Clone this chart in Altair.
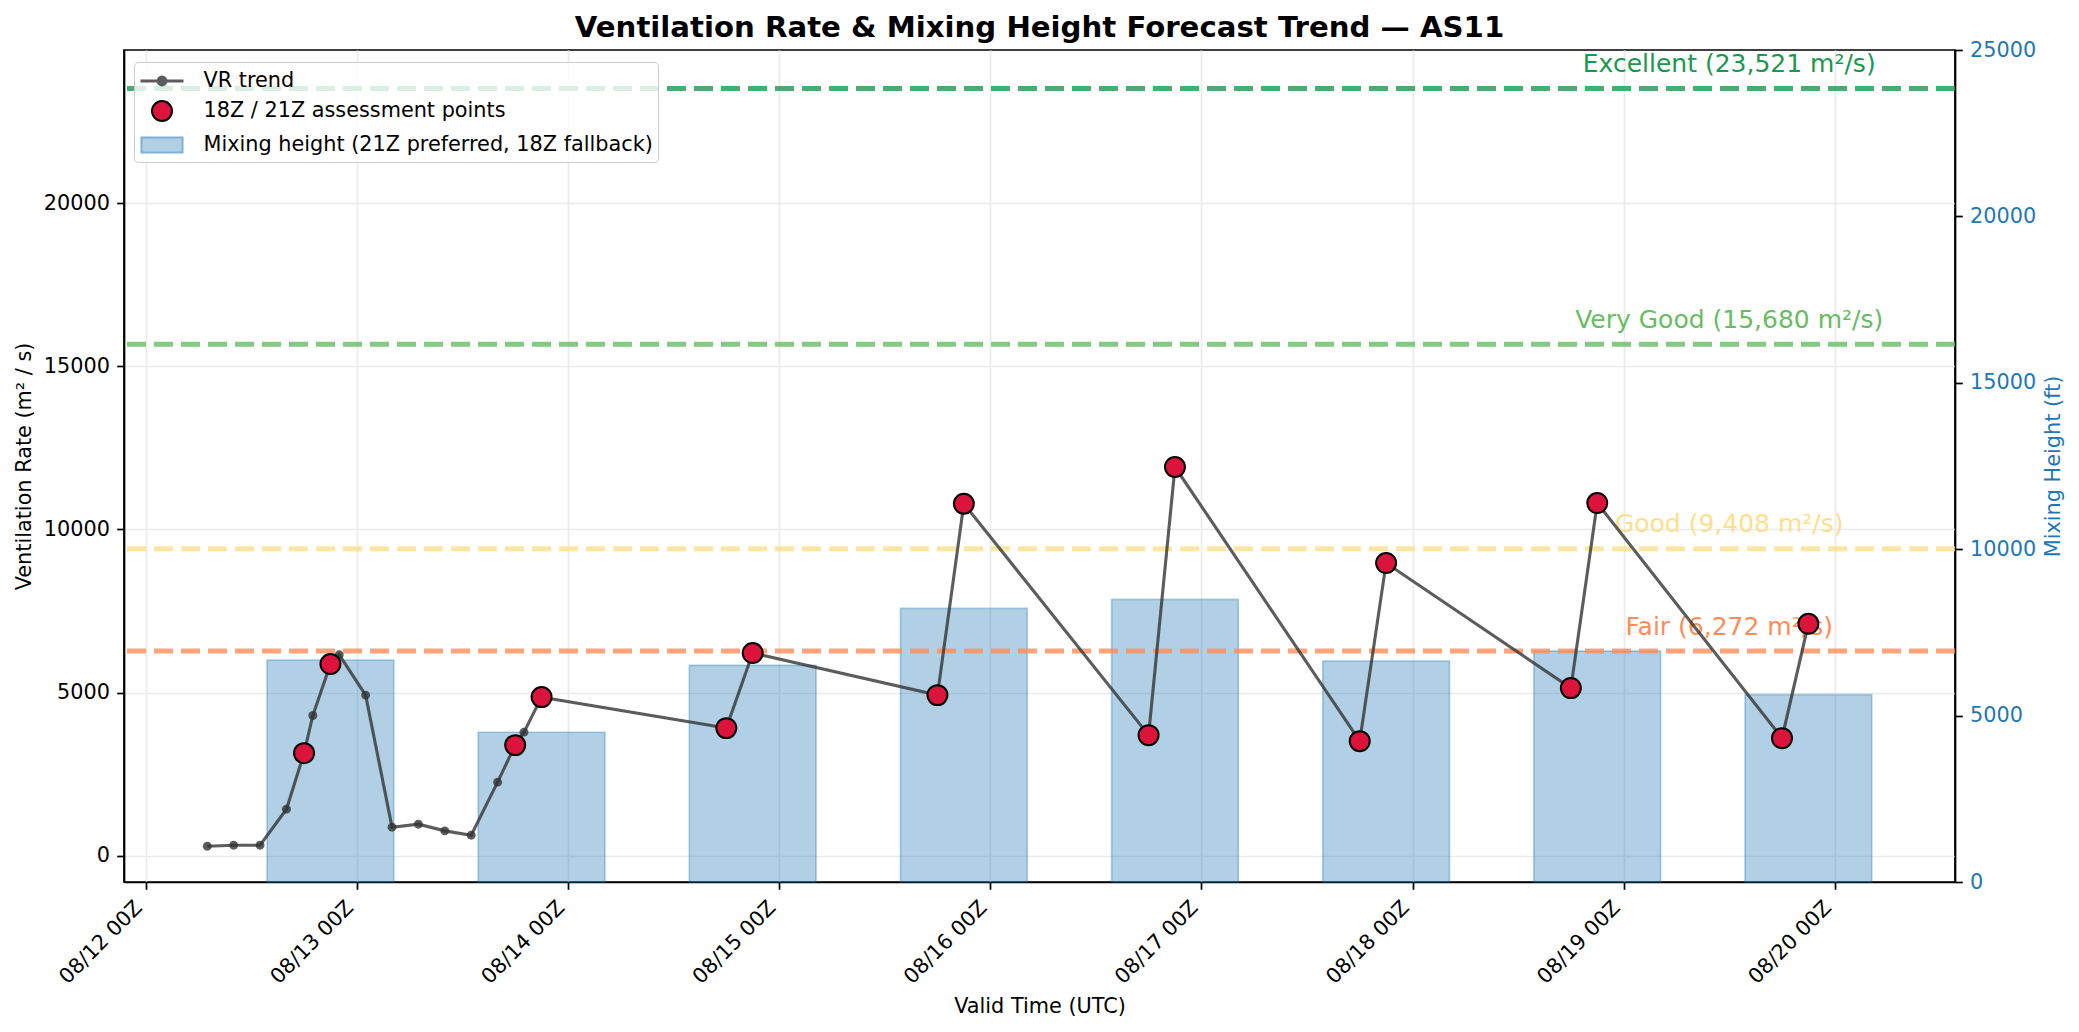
"""Ventilation rate and mixing height forecast trend for AS11."""

import altair as alt
import pandas as pd

# VR trend: 3-hourly guidance for the first two days plus the 18Z / 21Z checks
TREND_TIMES = [
    '2025-08-12T07:00:00Z', '2025-08-12T10:00:00Z', '2025-08-12T13:00:00Z', '2025-08-12T16:00:00Z',
    '2025-08-12T18:00:00Z', '2025-08-12T19:00:00Z', '2025-08-12T21:00:00Z', '2025-08-12T22:00:00Z',
    '2025-08-13T01:00:00Z', '2025-08-13T04:00:00Z', '2025-08-13T07:00:00Z', '2025-08-13T10:00:00Z',
    '2025-08-13T13:00:00Z', '2025-08-13T16:00:00Z', '2025-08-13T18:00:00Z', '2025-08-13T19:00:00Z',
    '2025-08-13T21:00:00Z', '2025-08-14T18:00:00Z', '2025-08-14T21:00:00Z', '2025-08-15T18:00:00Z',
    '2025-08-15T21:00:00Z', '2025-08-16T18:00:00Z', '2025-08-16T21:00:00Z', '2025-08-17T18:00:00Z',
    '2025-08-17T21:00:00Z', '2025-08-18T18:00:00Z', '2025-08-18T21:00:00Z', '2025-08-19T18:00:00Z',
    '2025-08-19T21:00:00Z',
]
TREND_VR = [
    288, 319, 319, 1423, 3141, 4295, 5871, 6156,
    4920, 871, 963, 758, 626, 2252, 3387, 3785,
    4859, 3908, 6209, 4920, 10788, 3693, 11914, 3509,
    8969, 5135, 10808, 3601, 7107,
]

ASSESS_TIMES = [
    '2025-08-12T18:00:00Z', '2025-08-12T21:00:00Z', '2025-08-13T18:00:00Z', '2025-08-13T21:00:00Z',
    '2025-08-14T18:00:00Z', '2025-08-14T21:00:00Z', '2025-08-15T18:00:00Z', '2025-08-15T21:00:00Z',
    '2025-08-16T18:00:00Z', '2025-08-16T21:00:00Z', '2025-08-17T18:00:00Z', '2025-08-17T21:00:00Z',
    '2025-08-18T18:00:00Z', '2025-08-18T21:00:00Z', '2025-08-19T18:00:00Z', '2025-08-19T21:00:00Z',
]
ASSESS_VR = [3141, 5871, 3387, 4859, 3908, 6209, 4920, 10788,
             3693, 11914, 3509, 8969, 5135, 10808, 3601, 7107]

MIX_TIMES = [
    '2025-08-12T21:00:00Z', '2025-08-13T21:00:00Z', '2025-08-14T21:00:00Z', '2025-08-15T21:00:00Z',
    '2025-08-16T21:00:00Z', '2025-08-17T21:00:00Z', '2025-08-18T21:00:00Z', '2025-08-19T21:00:00Z',
]
MIX_HEIGHT_FT = [6670, 4500, 6510, 8220, 8490, 6640, 6940, 5630]

THRESHOLD_NAMES = ['Fair', 'Good', 'Very Good', 'Excellent']
THRESHOLD_VALUES = [6272, 9408, 15680, 23521]
THRESHOLD_COLOURS = ['#fc8d59', '#fee08b', '#66bd63', '#1a9850']
LABEL_TIME = '2025-08-19T12:00:00Z'

DAY_TICKS = ['2025-08-%02dT00:00:00Z' % day for day in range(12, 21)]
X_DOMAIN = ['2025-08-11T21:32:00Z', '2025-08-20T13:40:00Z']
VR_DOMAIN = [-810, 24700]
VR_TICKS = [0, 5000, 10000, 15000, 20000]
MIX_TICKS = [0, 5000, 10000, 15000, 20000, 25000]

SERIES = ['VR trend', '18Z / 21Z assessment points', 'Mixing height (21Z preferred, 18Z fallback)']
SERIES_FILL = ['#5c5c5c', '#DC143C', '#b1cfe5']
SERIES_STROKE = ['#5c5c5c', '#000000', '#7fb0d6']

# symbol paths, unit = 13.5px at size 729
TREND_SYMBOL = ('M-1.52,-0.04H1.52V0.04H-1.52Z '
                'M-0.33,0A0.33,0.33 0 1,0 0.33,0A0.33,0.33 0 1,0 -0.33,0Z')
DOT_SYMBOL = 'M-0.74,0A0.74,0.74 0 1,0 0.74,0A0.74,0.74 0 1,0 -0.74,0Z'
BAR_SYMBOL = 'M-1.52,-0.556H1.52V0.556H-1.52Z'

FONT = 'DejaVu Sans'


def to_ms(stamps):
    return [int(pd.Timestamp(s).timestamp() * 1000) for s in stamps]


def iso(ts):
    return ts.strftime('%Y-%m-%dT%H:%M:%SZ')


x_scale = alt.Scale(type='utc', domain=to_ms(X_DOMAIN), nice=False)
vr_scale = alt.Scale(domain=VR_DOMAIN, nice=False, zero=False)

trend = pd.DataFrame({'at': TREND_TIMES, 'vr': TREND_VR})
assess = pd.DataFrame({'at': ASSESS_TIMES, 'vr': ASSESS_VR, 'series': SERIES[1]})

mix_at = pd.to_datetime(MIX_TIMES)
mix = pd.DataFrame({
    'start': [iso(t - pd.Timedelta(hours=7.2)) for t in mix_at],
    'end': [iso(t + pd.Timedelta(hours=7.2)) for t in mix_at],
    'height': MIX_HEIGHT_FT,
})

thresholds = pd.DataFrame({
    'name': THRESHOLD_NAMES,
    'value': THRESHOLD_VALUES,
    'label': [f'{n} ({v:,} m²/s)' for n, v in zip(THRESHOLD_NAMES, THRESHOLD_VALUES)],
    'at': LABEL_TIME,
})
threshold_colour = alt.Color('name:N', legend=None,
                             scale=alt.Scale(domain=THRESHOLD_NAMES, range=THRESHOLD_COLOURS))

x_axis = alt.Axis(values=to_ms(DAY_TICKS), format='%m/%d %HZ', labelAngle=315, labelAlign='right',
                  labelBaseline='middle', labelPadding=15, labelOffset=-7, labelFlush=False,
                  labelOverlap=False, title='Valid Time (UTC)', titlePadding=9, grid=True)

bars = alt.Chart(mix).mark_rect(
    fill='#1f77b4', fillOpacity=0.35, stroke='#1f77b4', strokeOpacity=0.35, strokeWidth=1.7
).encode(
    x=alt.X('start:T', scale=x_scale, axis=x_axis),
    x2='end:T',
    y=alt.Y('height:Q', scale=alt.Scale(domain=[0, 25000], nice=False),
            axis=alt.Axis(orient='right', values=MIX_TICKS, format='d', grid=False,
                          title='Mixing Height (ft)', titleAngle=270, titlePadding=28,
                          labelColor='#1f77b4', titleColor='#1f77b4')),
    y2=alt.datum(0),
)

rules = alt.Chart(thresholds).mark_rule(strokeDash=[19, 8], strokeWidth=5, opacity=0.8).encode(
    y=alt.Y('value:Q', scale=vr_scale,
            axis=alt.Axis(orient='left', values=VR_TICKS, format='d', grid=True,
                          title='Ventilation Rate (m² / s)', titlePadding=9)),
    color=threshold_colour,
)

labels = alt.Chart(thresholds).mark_text(fontSize=25, align='center', baseline='alphabetic', dy=-16.5).encode(
    x=alt.X('at:T', scale=x_scale),
    y=alt.Y('value:Q', scale=vr_scale),
    text='label:N',
    color=threshold_colour,
)

line = alt.Chart(trend).mark_line(
    color='#333333', opacity=0.8, strokeWidth=3.1,
    point=alt.OverlayMarkDef(filled=True, color='#333333', opacity=0.8, size=80),
).encode(
    x=alt.X('at:T', scale=x_scale),
    y=alt.Y('vr:Q', scale=vr_scale),
)

points = alt.Chart(assess).mark_point(filled=True, size=729, strokeWidth=2, opacity=1).encode(
    x=alt.X('at:T', scale=x_scale),
    y=alt.Y('vr:Q', scale=vr_scale),
    fill=alt.Fill('series:N', scale=alt.Scale(domain=SERIES, range=SERIES_FILL),
                  legend=alt.Legend(title=None, orient='none', legendX=10, legendY=12, padding=4.5,
                                    symbolSize=729, symbolStrokeWidth=2, symbolOffset=9, symbolOpacity=1,
                                    labelOffset=27, labelFontSize=20.8, labelLimit=700, rowPadding=5,
                                    fillColor='rgba(255,255,255,0.8)', strokeColor='#cccccc',
                                    cornerRadius=4)),
    stroke=alt.Stroke('series:N', scale=alt.Scale(domain=SERIES, range=SERIES_STROKE)),
    shape=alt.Shape('series:N', scale=alt.Scale(domain=SERIES,
                                                range=[TREND_SYMBOL, DOT_SYMBOL, BAR_SYMBOL])),
)

vr_layers = alt.layer(rules, labels, line, points)

chart = alt.layer(bars, vr_layers).resolve_scale(y='independent').properties(
    width=1831,
    height=832,
    autosize=alt.AutoSizeParams(type='none'),
    padding={'left': 116, 'top': 42, 'right': 116, 'bottom': 142},
    title=alt.TitleParams('Ventilation Rate & Mixing Height Forecast Trend — AS11', fontSize=29.2,
                          fontWeight='bold', anchor='middle', frame='group', baseline='alphabetic',
                          offset=-27, color='black'),
).configure_view(
    stroke='black', strokeWidth=1.7,
).configure_axis(
    labelFont=FONT, titleFont=FONT, labelFontSize=20.8, titleFontSize=20.8, titleFontWeight='normal',
    labelColor='black', titleColor='black', domainColor='black', domainWidth=1.7,
    tickColor='black', tickWidth=1.7, tickSize=7.3, labelPadding=7.3,
    gridColor='#ebebeb', gridWidth=1.7,
).configure_legend(
    labelFont=FONT,
).configure_text(
    font=FONT,
).configure_title(
    font=FONT,
)

chart.save('out.html', embed_options={'renderer': 'svg', 'actions': False})
